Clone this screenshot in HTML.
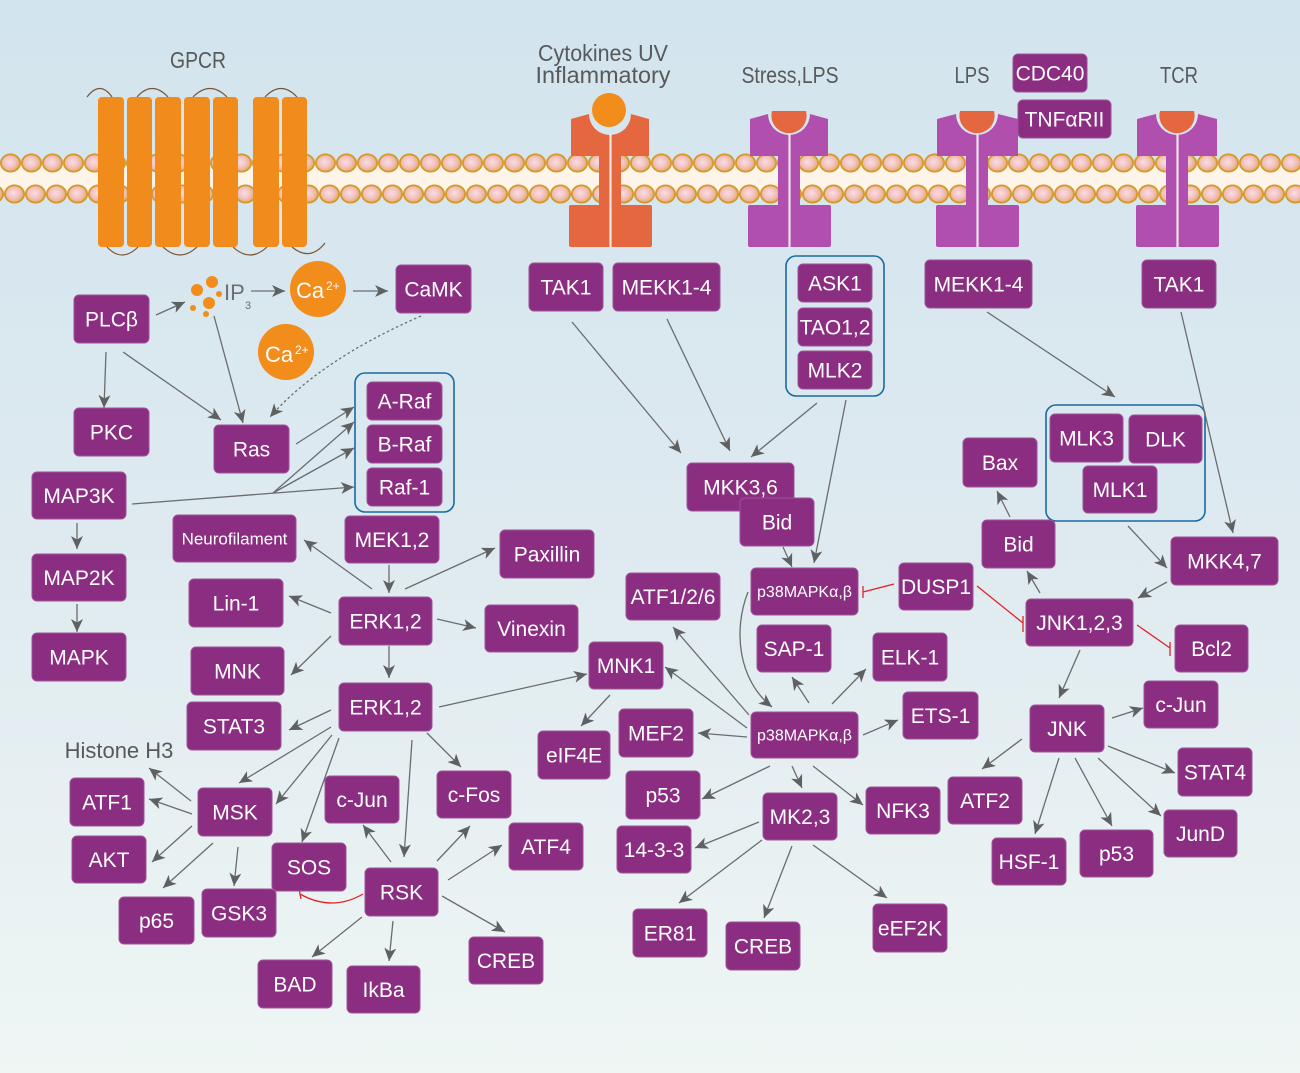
<!DOCTYPE html>
<html><head><meta charset="utf-8"><style>
html,body{margin:0;padding:0;background:#dce9f0;}
svg{display:block;}
.n{fill:#8b2e82;stroke:#9e5396;stroke-width:1;}
.t{font-family:"Liberation Sans",Arial,sans-serif;fill:#fff;font-size:21px;text-anchor:middle;}
.l{font-family:"Liberation Sans",Arial,sans-serif;fill:#58595b;font-size:23px;text-anchor:middle;}
.a{stroke:#6b6c6e;stroke-width:1.3;fill:none;marker-end:url(#ah);}
.r{stroke:#e32228;stroke-width:1.3;fill:none;}
.bx{fill:#d8e7f0;fill-opacity:0.6;stroke:#1b6aa0;stroke-width:1.6;}
</style></head><body>
<svg width="1300" height="1073" viewBox="0 0 1300 1073" xmlns="http://www.w3.org/2000/svg">
<defs>
<linearGradient id="bgg" x1="0" y1="0" x2="0" y2="1">
<stop offset="0" stop-color="#d2e4ee"/><stop offset="0.5" stop-color="#deeaf0"/><stop offset="1" stop-color="#eff6f4"/>
</linearGradient>
<radialGradient id="bl" cx="0.45" cy="0.45" r="0.6">
<stop offset="0" stop-color="#fadde3"/><stop offset="0.5" stop-color="#f2c3c0"/><stop offset="1" stop-color="#e2a75c"/>
</radialGradient>
<pattern id="p1" x="0" y="153" width="21" height="20" patternUnits="userSpaceOnUse">
<ellipse cx="10.5" cy="10" rx="9.6" ry="8.6" fill="url(#bl)" stroke="#d4992a" stroke-width="1.8"/>
</pattern>
<pattern id="p2" x="4" y="184" width="21" height="20" patternUnits="userSpaceOnUse">
<ellipse cx="10.5" cy="10" rx="9.6" ry="8.6" fill="url(#bl)" stroke="#d4992a" stroke-width="1.8"/>
</pattern>
<marker id="ah" markerUnits="userSpaceOnUse" markerWidth="14" markerHeight="12" refX="13" refY="6" orient="auto">
<path d="M0,0 L13,6 L0,12 L3.5,6 Z" fill="#5f6062"/>
</marker>
</defs>
<rect x="0" y="0" width="1300" height="1073" fill="url(#bgg)"/>

<!-- membrane -->
<rect x="0" y="162" width="1300" height="32" fill="#fdf5ea"/>
<rect x="0" y="153" width="1300" height="20" fill="url(#p1)"/>
<rect x="0" y="184" width="1300" height="20" fill="url(#p2)"/>

<!-- GPCR -->
<g fill="none" stroke="#7a5530" stroke-width="1.2">
<path d="M87,97 Q100,80 112,97"/>
<path d="M137,97 Q152,80 168,97"/>
<path d="M193,97 Q210,80 227,97"/>
<path d="M265,97 Q281,80 297,97"/>
<path d="M107,247 Q122,263 138,247"/>
<path d="M163,247 Q180,263 197,247"/>
<path d="M233,247 Q250,263 267,247"/>
<path d="M292,247 Q310,262 325,243"/>
</g>
<g fill="#f18b1b">
<rect x="98" y="97" width="26" height="150" rx="4"/>
<rect x="127" y="97" width="25" height="150" rx="4"/>
<rect x="155" y="97" width="26" height="150" rx="4"/>
<rect x="184" y="97" width="26" height="150" rx="4"/>
<rect x="213" y="97" width="25" height="150" rx="4"/>
<rect x="253" y="97" width="26" height="150" rx="4"/>
<rect x="282" y="97" width="25" height="150" rx="4"/>
</g>

<!-- receptors -->
<g fill="#e5673f">
<path d="M571,119 L589,114 A21 21 0 0 0 631,114 L649,119 L649,156 L571,156 Z"/>
<rect x="599" y="155" width="22" height="52"/>
<rect x="569" y="205" width="83" height="42" rx="2"/>
</g>
<line x1="610.5" y1="133" x2="610.5" y2="247" stroke="#f4e8e0" stroke-width="2.2"/>
<circle cx="609" cy="110" r="17" fill="#f28c1a"/>

<g fill="#b14fae">
<path d="M750,119 L768,114 A21 21 0 0 0 810,114 L828,119 L828,156 L750,156 Z"/>
<rect x="778" y="155" width="22" height="52"/>
<rect x="748" y="205" width="83" height="42" rx="2"/>
<path d="M937,119 L956,114 A21 21 0 0 0 998,114 L1018,119 L1018,156 L937,156 Z"/>
<rect x="966" y="155" width="22" height="52"/>
<rect x="936" y="205" width="83" height="42" rx="2"/>
<path d="M1137,119 L1156,114 A21 21 0 0 0 1198,114 L1217,119 L1217,156 L1137,156 Z"/>
<rect x="1166" y="155" width="22" height="52"/>
<rect x="1136" y="205" width="83" height="42" rx="2"/>
</g>
<g stroke="#f1e4ee" stroke-width="2.2">
<line x1="789.5" y1="133" x2="789.5" y2="247"/>
<line x1="977.5" y1="133" x2="977.5" y2="247"/>
<line x1="1177.5" y1="133" x2="1177.5" y2="247"/>
</g>
<g fill="#e5673f">
<path d="M772,111 A17.6 17.6 0 1 0 806,111 Z"/>
<path d="M960,111 A17.6 17.6 0 1 0 994,111 Z"/>
<path d="M1160,111 A17.6 17.6 0 1 0 1194,111 Z"/>
</g>

<!-- top labels -->
<text class="l" x="198" y="68" textLength="56" lengthAdjust="spacingAndGlyphs">GPCR</text>
<text class="l" x="603" y="61" textLength="130" lengthAdjust="spacingAndGlyphs">Cytokines UV</text>
<text class="l" x="603" y="83" textLength="135" lengthAdjust="spacingAndGlyphs">Inflammatory</text>
<text class="l" x="790" y="83" textLength="97" lengthAdjust="spacingAndGlyphs">Stress,LPS</text>
<text class="l" x="972" y="83" textLength="35" lengthAdjust="spacingAndGlyphs">LPS</text>
<text class="l" x="1179" y="83" textLength="38" lengthAdjust="spacingAndGlyphs">TCR</text>
<text class="l" x="119" y="758" style="font-size:22px">Histone H3</text>

<!-- blue group boxes -->
<rect class="bx" x="355" y="373" width="99" height="139" rx="10"/>
<rect class="bx" x="786" y="256" width="98" height="140" rx="10"/>
<rect class="bx" x="1046" y="405" width="159" height="116" rx="10"/>

<!-- IP3 / Ca -->
<g fill="#f28c1a">
<circle cx="197" cy="290" r="6"/><circle cx="212" cy="282" r="6"/><circle cx="209" cy="303" r="6"/>
<circle cx="219" cy="294" r="3"/><circle cx="193" cy="308" r="3"/><circle cx="206" cy="314" r="3"/>
<circle cx="318" cy="289" r="28"/>
<circle cx="286" cy="352" r="28"/>
</g>
<text x="224" y="300" style="font-family:'Liberation Sans',Arial,sans-serif;font-size:22px;fill:#6d6e70">IP</text>
<text x="245" y="309" style="font-family:'Liberation Sans',Arial,sans-serif;font-size:11px;fill:#6d6e70">3</text>
<text x="296" y="298" style="font-family:'Liberation Sans',Arial,sans-serif;font-size:22px;fill:#fff">Ca</text>
<text x="326" y="290" style="font-family:'Liberation Sans',Arial,sans-serif;font-size:12px;fill:#fff">2+</text>
<text x="265" y="362" style="font-family:'Liberation Sans',Arial,sans-serif;font-size:22px;fill:#fff">Ca</text>
<text x="295" y="354" style="font-family:'Liberation Sans',Arial,sans-serif;font-size:12px;fill:#fff">2+</text>

<!-- arrows -->
<g>
<line class="a" x1="156" y1="315" x2="185" y2="302"/>
<line class="a" x1="251" y1="291" x2="285" y2="291"/>
<line class="a" x1="353" y1="291" x2="388" y2="291"/>
<line class="a" x1="106" y1="352" x2="104" y2="408"/>
<line class="a" x1="123" y1="352" x2="221" y2="420"/>
<line class="a" x1="214" y1="316" x2="243" y2="423"/>
<path class="a" d="M421,316 Q320,360 270,417" stroke-dasharray="2.5,2.5" stroke="#555"/>
<line class="a" x1="296" y1="444" x2="354" y2="407"/>
<line class="a" x1="132" y1="504" x2="354" y2="487"/>
<line class="a" x1="273" y1="493" x2="354" y2="422"/>
<line class="a" x1="273" y1="493" x2="354" y2="448"/>
<line class="a" x1="77" y1="523" x2="77" y2="549"/>
<line class="a" x1="77" y1="604" x2="77" y2="632"/>
<line class="a" x1="389" y1="565" x2="389" y2="593"/>
<line class="a" x1="372" y1="589" x2="304" y2="540"/>
<line class="a" x1="405" y1="589" x2="495" y2="548"/>
<line class="a" x1="331" y1="613" x2="289" y2="596"/>
<line class="a" x1="437" y1="619" x2="476" y2="628"/>
<line class="a" x1="331" y1="636" x2="291" y2="675"/>
<line class="a" x1="389" y1="646" x2="389" y2="678"/>
<line class="a" x1="439" y1="707" x2="587" y2="674"/>
<line class="a" x1="331" y1="710" x2="289" y2="730"/>
<line class="a" x1="331" y1="727" x2="239" y2="783"/>
<line class="a" x1="332" y1="735" x2="276" y2="804"/>
<line class="a" x1="339" y1="738" x2="302" y2="842"/>
<line class="a" x1="412" y1="740" x2="404" y2="857"/>
<line class="a" x1="427" y1="733" x2="461" y2="767"/>
<line class="a" x1="191" y1="801" x2="149" y2="768"/>
<line class="a" x1="192" y1="814" x2="149" y2="799"/>
<line class="a" x1="192" y1="826" x2="152" y2="862"/>
<line class="a" x1="213" y1="843" x2="163" y2="888"/>
<line class="a" x1="238" y1="847" x2="234" y2="886"/>
<line class="a" x1="391" y1="862" x2="363" y2="825"/>
<line class="a" x1="437" y1="861" x2="470" y2="826"/>
<line class="a" x1="448" y1="880" x2="502" y2="845"/>
<line class="a" x1="442" y1="896" x2="505" y2="932"/>
<line class="a" x1="362" y1="917" x2="312" y2="957"/>
<line class="a" x1="393" y1="921" x2="389" y2="961"/>

<line class="a" x1="572" y1="322" x2="681" y2="453"/>
<line class="a" x1="667" y1="319" x2="730" y2="451"/>
<line class="a" x1="817" y1="403" x2="751" y2="457"/>
<line class="a" x1="846" y1="400" x2="814" y2="563"/>
<line class="a" x1="783" y1="547" x2="792" y2="567"/>
<path class="a" d="M748,592 C733,630 738,680 772,707"/>
<line class="a" x1="809" y1="703" x2="792" y2="677"/>
<line class="a" x1="832" y1="704" x2="866" y2="669"/>
<line class="a" x1="863" y1="735" x2="898" y2="720"/>
<line class="a" x1="747" y1="737" x2="698" y2="733"/>
<line class="a" x1="747" y1="728" x2="665" y2="667"/>
<line class="a" x1="749" y1="715" x2="673" y2="627"/>
<line class="a" x1="770" y1="766" x2="702" y2="799"/>
<line class="a" x1="792" y1="766" x2="802" y2="788"/>
<line class="a" x1="813" y1="766" x2="863" y2="805"/>
<line class="a" x1="759" y1="822" x2="695" y2="848"/>
<line class="a" x1="762" y1="840" x2="679" y2="903"/>
<line class="a" x1="792" y1="846" x2="764" y2="918"/>
<line class="a" x1="813" y1="845" x2="887" y2="898"/>
<line class="a" x1="610" y1="695" x2="581" y2="726"/>

<line class="a" x1="987" y1="312" x2="1115" y2="397"/>
<line class="a" x1="1181" y1="312" x2="1233" y2="533"/>
<line class="a" x1="1128" y1="526" x2="1167" y2="568"/>
<line class="a" x1="1167" y1="582" x2="1138" y2="598"/>
<line class="a" x1="1040" y1="593" x2="1027" y2="571"/>
<line class="a" x1="1010" y1="517" x2="997" y2="491"/>
<line class="a" x1="1080" y1="650" x2="1059" y2="698"/>
<line class="a" x1="1112" y1="718" x2="1143" y2="708"/>
<line class="a" x1="1022" y1="739" x2="982" y2="769"/>
<line class="a" x1="1108" y1="746" x2="1175" y2="773"/>
<line class="a" x1="1098" y1="758" x2="1161" y2="816"/>
<line class="a" x1="1059" y1="758" x2="1035" y2="834"/>
<line class="a" x1="1075" y1="758" x2="1112" y2="826"/>
</g>

<!-- inhibitions -->
<path class="r" d="M363,894 Q332,912 300,894"/>
<line class="r" x1="299" y1="889" x2="301" y2="899"/>
<line class="r" x1="894" y1="584" x2="863" y2="592"/>
<line class="r" x1="863" y1="586" x2="863" y2="598"/>
<line class="r" x1="977" y1="586" x2="1023" y2="623"/>
<line class="r" x1="1023" y1="616" x2="1023" y2="632"/>
<line class="r" x1="1137" y1="625" x2="1170" y2="648"/>
<line class="r" x1="1170" y1="642" x2="1170" y2="656"/>

<!-- nodes -->
<g>
<rect class="n" x="1013" y="54" width="74" height="38" rx="5"/><text class="t" x="1050" y="80.5">CDC40</text>
<rect class="n" x="1018" y="100" width="93" height="38" rx="5"/><text class="t" x="1064.5" y="126.5">TNFαRII</text>
<rect class="n" x="74" y="295" width="75" height="48" rx="5"/><text class="t" x="111.5" y="326.5">PLCβ</text>
<rect class="n" x="396" y="265" width="75" height="48" rx="5"/><text class="t" x="433.5" y="296.5">CaMK</text>
<rect class="n" x="529" y="263" width="74" height="48" rx="5"/><text class="t" x="566" y="294.5">TAK1</text>
<rect class="n" x="613" y="263" width="107" height="48" rx="5"/><text class="t" x="666.5" y="294.5">MEKK1-4</text>
<rect class="n" x="798" y="264" width="74" height="38" rx="5"/><text class="t" x="835" y="290.5">ASK1</text>
<rect class="n" x="798" y="308" width="74" height="38" rx="5"/><text class="t" x="835" y="334.5">TAO1,2</text>
<rect class="n" x="798" y="351" width="74" height="38" rx="5"/><text class="t" x="835" y="377.5">MLK2</text>
<rect class="n" x="925" y="260" width="107" height="48" rx="5"/><text class="t" x="978.5" y="291.5">MEKK1-4</text>
<rect class="n" x="1142" y="260" width="74" height="48" rx="5"/><text class="t" x="1179" y="291.5">TAK1</text>
<rect class="n" x="74" y="408" width="75" height="48" rx="5"/><text class="t" x="111.5" y="439.5">PKC</text>
<rect class="n" x="214" y="425" width="75" height="48" rx="5"/><text class="t" x="251.5" y="456.5">Ras</text>
<rect class="n" x="367" y="382" width="75" height="38" rx="5"/><text class="t" x="404.5" y="408.5">A-Raf</text>
<rect class="n" x="367" y="425" width="75" height="38" rx="5"/><text class="t" x="404.5" y="451.5">B-Raf</text>
<rect class="n" x="367" y="468" width="75" height="38" rx="5"/><text class="t" x="404.5" y="494.5">Raf-1</text>
<rect class="n" x="32" y="472" width="94" height="47" rx="5"/><text class="t" x="79" y="503">MAP3K</text>
<rect class="n" x="32" y="554" width="94" height="47" rx="5"/><text class="t" x="79" y="585">MAP2K</text>
<rect class="n" x="32" y="633" width="94" height="48" rx="5"/><text class="t" x="79" y="664.5">MAPK</text>
<rect class="n" x="173" y="515" width="123" height="47" rx="5"/><text class="t" x="234.5" y="544.5" style="font-size:17px">Neurofilament</text>
<rect class="n" x="345" y="516" width="94" height="47" rx="5"/><text class="t" x="392" y="547">MEK1,2</text>
<rect class="n" x="500" y="530" width="94" height="48" rx="5"/><text class="t" x="547" y="561.5">Paxillin</text>
<rect class="n" x="189" y="579" width="94" height="48" rx="5"/><text class="t" x="236" y="610.5">Lin-1</text>
<rect class="n" x="339" y="597" width="93" height="48" rx="5"/><text class="t" x="385.5" y="628.5">ERK1,2</text>
<rect class="n" x="485" y="605" width="93" height="47" rx="5"/><text class="t" x="531.5" y="636">Vinexin</text>
<rect class="n" x="191" y="647" width="93" height="48" rx="5"/><text class="t" x="237.5" y="678.5">MNK</text>
<rect class="n" x="339" y="683" width="93" height="48" rx="5"/><text class="t" x="385.5" y="714.5">ERK1,2</text>
<rect class="n" x="187" y="702" width="94" height="48" rx="5"/><text class="t" x="234" y="733.5">STAT3</text>
<rect class="n" x="70" y="778" width="74" height="48" rx="5"/><text class="t" x="107" y="809.5">ATF1</text>
<rect class="n" x="198" y="788" width="74" height="48" rx="5"/><text class="t" x="235" y="819.5">MSK</text>
<rect class="n" x="325" y="776" width="74" height="47" rx="5"/><text class="t" x="362" y="807">c-Jun</text>
<rect class="n" x="437" y="771" width="74" height="47" rx="5"/><text class="t" x="474" y="802">c-Fos</text>
<rect class="n" x="509" y="823" width="74" height="47" rx="5"/><text class="t" x="546" y="854">ATF4</text>
<rect class="n" x="72" y="836" width="74" height="47" rx="5"/><text class="t" x="109" y="867">AKT</text>
<rect class="n" x="272" y="843" width="74" height="48" rx="5"/><text class="t" x="309" y="874.5">SOS</text>
<rect class="n" x="365" y="868" width="73" height="48" rx="5"/><text class="t" x="401.5" y="899.5">RSK</text>
<rect class="n" x="119" y="897" width="75" height="47" rx="5"/><text class="t" x="156.5" y="928">p65</text>
<rect class="n" x="202" y="889" width="74" height="48" rx="5"/><text class="t" x="239" y="920.5">GSK3</text>
<rect class="n" x="469" y="937" width="74" height="47" rx="5"/><text class="t" x="506" y="968">CREB</text>
<rect class="n" x="258" y="960" width="74" height="48" rx="5"/><text class="t" x="295" y="991.5">BAD</text>
<rect class="n" x="347" y="966" width="73" height="47" rx="5"/><text class="t" x="383.5" y="997">IkBa</text>

<rect class="n" x="687" y="463" width="107" height="48" rx="5"/><text class="t" x="740.5" y="494.5">MKK3,6</text>
<rect class="n" x="740" y="498" width="74" height="48" rx="5"/><text class="t" x="777" y="529.5">Bid</text>
<rect class="n" x="751" y="568" width="107" height="47" rx="5"/><text class="t" x="804.5" y="597" style="font-size:16px">p38MAPKα,β</text>
<rect class="n" x="626" y="573" width="94" height="47" rx="5"/><text class="t" x="673" y="604">ATF1/2/6</text>
<rect class="n" x="899" y="563" width="74" height="47" rx="5"/><text class="t" x="936" y="594">DUSP1</text>
<rect class="n" x="589" y="642" width="74" height="47" rx="5"/><text class="t" x="626" y="673">MNK1</text>
<rect class="n" x="757" y="625" width="74" height="47" rx="5"/><text class="t" x="794" y="656">SAP-1</text>
<rect class="n" x="873" y="633" width="74" height="48" rx="5"/><text class="t" x="910" y="664.5">ELK-1</text>
<rect class="n" x="538" y="731" width="72" height="48" rx="5"/><text class="t" x="574" y="762.5">eIF4E</text>
<rect class="n" x="619" y="709" width="74" height="48" rx="5"/><text class="t" x="656" y="740.5">MEF2</text>
<rect class="n" x="751" y="712" width="107" height="46" rx="5"/><text class="t" x="804.5" y="740.5" style="font-size:16px">p38MAPKα,β</text>
<rect class="n" x="903" y="692" width="75" height="47" rx="5"/><text class="t" x="940.5" y="723">ETS-1</text>
<rect class="n" x="626" y="771" width="74" height="48" rx="5"/><text class="t" x="663" y="802.5">p53</text>
<rect class="n" x="763" y="793" width="74" height="47" rx="5"/><text class="t" x="800" y="824">MK2,3</text>
<rect class="n" x="866" y="787" width="74" height="47" rx="5"/><text class="t" x="903" y="818">NFK3</text>
<rect class="n" x="617" y="826" width="74" height="47" rx="5"/><text class="t" x="654" y="857">14-3-3</text>
<rect class="n" x="633" y="909" width="74" height="48" rx="5"/><text class="t" x="670" y="940.5">ER81</text>
<rect class="n" x="726" y="922" width="74" height="48" rx="5"/><text class="t" x="763" y="953.5">CREB</text>
<rect class="n" x="873" y="904" width="74" height="48" rx="5"/><text class="t" x="910" y="935.5">eEF2K</text>

<rect class="n" x="1050" y="414" width="73" height="48" rx="5"/><text class="t" x="1086.5" y="445.5">MLK3</text>
<rect class="n" x="1129" y="415" width="73" height="48" rx="5"/><text class="t" x="1165.5" y="446.5">DLK</text>
<rect class="n" x="1083" y="466" width="74" height="47" rx="5"/><text class="t" x="1120" y="497">MLK1</text>
<rect class="n" x="963" y="438" width="74" height="49" rx="5"/><text class="t" x="1000" y="470">Bax</text>
<rect class="n" x="982" y="520" width="73" height="48" rx="5"/><text class="t" x="1018.5" y="551.5">Bid</text>
<rect class="n" x="1171" y="537" width="107" height="48" rx="5"/><text class="t" x="1224.5" y="568.5">MKK4,7</text>
<rect class="n" x="1026" y="599" width="107" height="47" rx="5"/><text class="t" x="1079.5" y="630">JNK1,2,3</text>
<rect class="n" x="1175" y="625" width="73" height="47" rx="5"/><text class="t" x="1211.5" y="656">Bcl2</text>
<rect class="n" x="1030" y="705" width="74" height="47" rx="5"/><text class="t" x="1067" y="736">JNK</text>
<rect class="n" x="1144" y="681" width="74" height="47" rx="5"/><text class="t" x="1181" y="712">c-Jun</text>
<rect class="n" x="948" y="777" width="74" height="47" rx="5"/><text class="t" x="985" y="808">ATF2</text>
<rect class="n" x="1178" y="748" width="74" height="48" rx="5"/><text class="t" x="1215" y="779.5">STAT4</text>
<rect class="n" x="1164" y="810" width="73" height="47" rx="5"/><text class="t" x="1200.5" y="841">JunD</text>
<rect class="n" x="992" y="838" width="74" height="47" rx="5"/><text class="t" x="1029" y="869">HSF-1</text>
<rect class="n" x="1080" y="830" width="73" height="47" rx="5"/><text class="t" x="1116.5" y="861">p53</text>
</g>
</svg>
</body></html>
